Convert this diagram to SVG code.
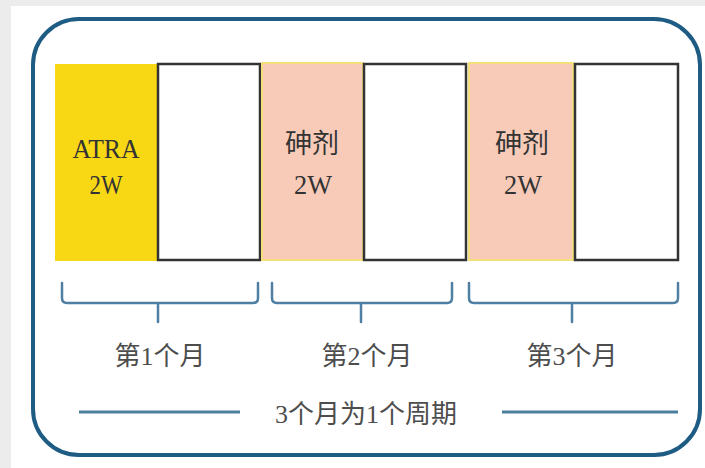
<svg xmlns="http://www.w3.org/2000/svg" width="705" height="468" viewBox="0 0 705 468">
<style>
.t{font-family:"Liberation Serif","Noto Sans CJK SC",serif;fill:#3a3a3a;text-anchor:middle}
.box{font-size:27px;fill:#333}
.lbl{font-size:26px;fill:#4d4d4d}
.white{fill:#fff;stroke:#333;stroke-width:2.5}
.pink{fill:#f7cbb8;stroke:#f3e07a;stroke-width:2}
.br{fill:none;stroke:#4f7fa3;stroke-width:2.5;stroke-linejoin:round;stroke-linecap:round}
.ln{stroke:#4b7f9c;stroke-width:3}
</style>
<rect x="0" y="0" width="705" height="468" fill="#ececec"/>
<rect x="11" y="6" width="694" height="462" fill="#fff"/>
<rect id="frame" x="33" y="19" width="667" height="436" rx="46" ry="46" fill="none" stroke="#1e5c84" stroke-width="4"/>
<g id="atra">
<rect x="55" y="64" width="103" height="197" fill="#f8d815"/>
<text class="t box" x="106" y="158" textLength="67" lengthAdjust="spacingAndGlyphs">ATRA</text>
<text class="t box" x="106" y="194" textLength="33" lengthAdjust="spacingAndGlyphs">2W</text>
</g>
<g id="rest1"><rect class="white" x="158" y="64" width="102" height="196"/></g>
<g id="arsenic1">
<rect class="pink" x="262" y="63" width="101" height="197"/>
<text class="t box" x="312" y="153">砷剂</text>
<text class="t box" x="313" y="194" textLength="38" lengthAdjust="spacingAndGlyphs">2W</text>
</g>
<g id="rest2"><rect class="white" x="364" y="64" width="102" height="196"/></g>
<g id="arsenic2">
<rect class="pink" x="469" y="63" width="104" height="197"/>
<text class="t box" x="522" y="153">砷剂</text>
<text class="t box" x="523" y="194" textLength="38" lengthAdjust="spacingAndGlyphs">2W</text>
</g>
<g id="rest3"><rect class="white" x="575" y="64" width="103" height="196"/></g>
<g id="connectors">
<path class="br" d="M62 283 V298 Q62 303 67 303 H253 Q258 303 258 298 V283 M158 303 V322"/>
<path class="br" d="M272 283 V298 Q272 303 277 303 H447 Q452 303 452 298 V283 M361 303 V322"/>
<path class="br" d="M469 283 V298 Q469 303 474 303 H673 Q678 303 678 298 V283 M572 303 V322"/>
<line class="ln" x1="79" y1="412" x2="240" y2="412"/>
<line class="ln" x1="502" y1="412" x2="678" y2="412"/>
</g>
<g id="labels">
<text class="t lbl" x="160" y="365">第1个月</text>
<text class="t lbl" x="367" y="365">第2个月</text>
<text class="t lbl" x="572" y="365">第3个月</text>
<text class="t lbl" x="366" y="423">3个月为1个周期</text>
</g>
</svg>
